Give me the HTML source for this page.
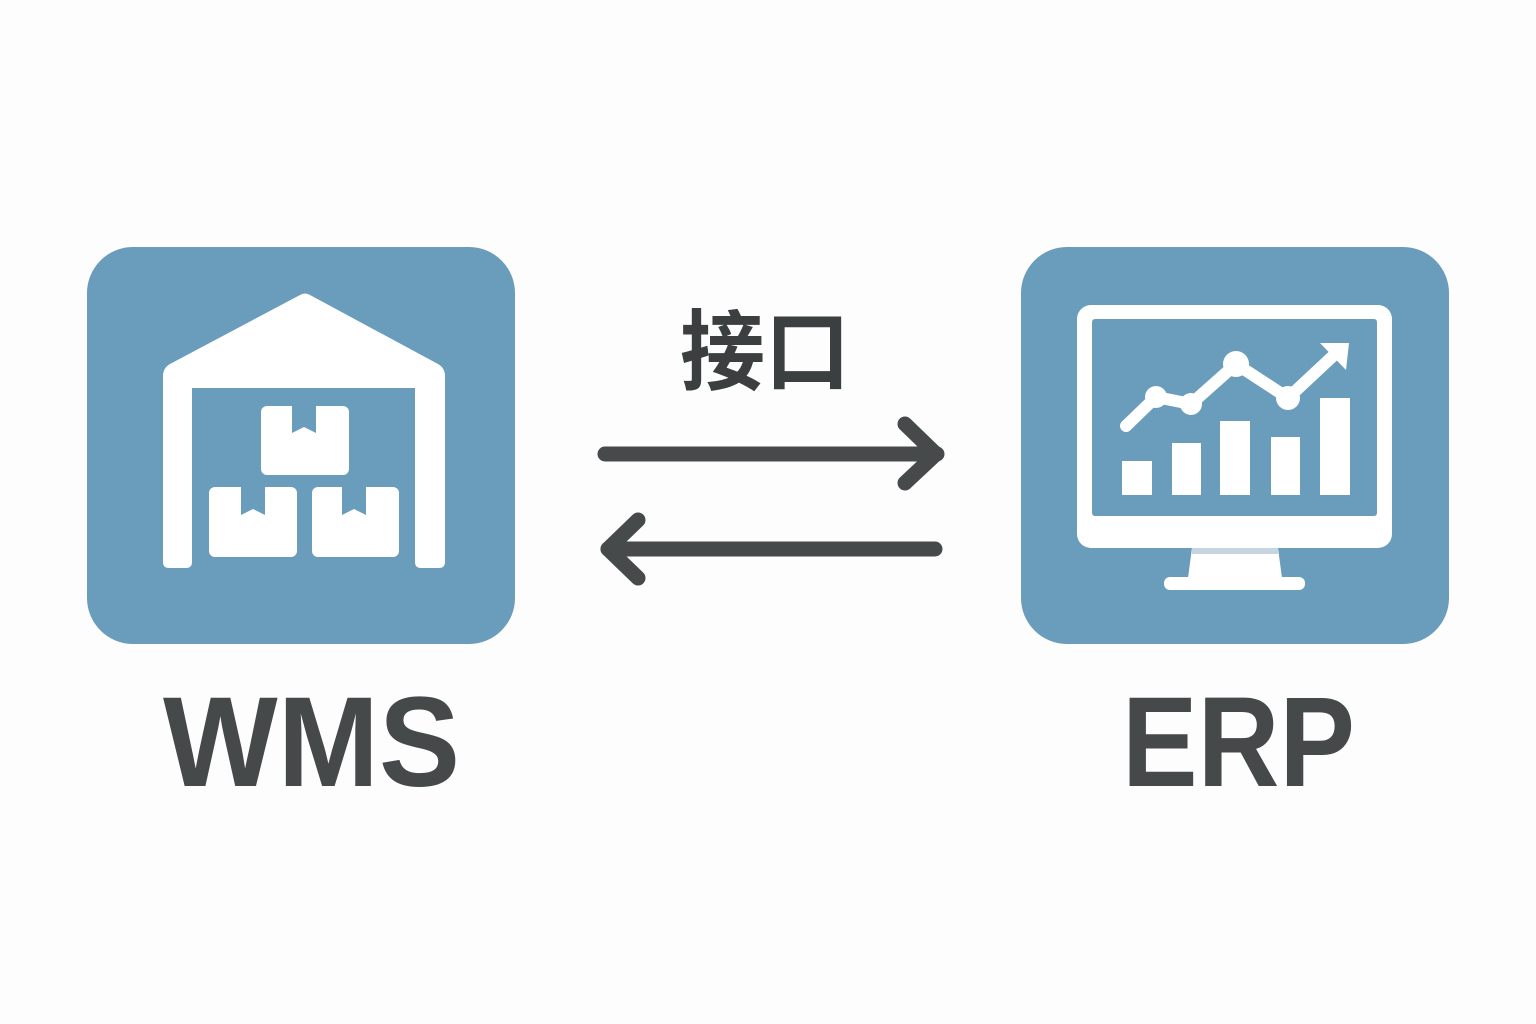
<!DOCTYPE html>
<html><head><meta charset="utf-8"><style>
html,body{margin:0;padding:0;background:#fdfdfd;}
svg{display:block;}
</style></head><body>
<svg width="1536" height="1024" viewBox="0 0 1536 1024" xmlns="http://www.w3.org/2000/svg">
<rect width="1536" height="1024" fill="#fdfdfd"/>
<!-- WMS box -->
<rect x="87" y="247" width="428" height="397" rx="46" fill="#6a9dbb"/>
<path d="M163,376 Q163,368 170,364 L300,295 Q305,292 310,295 L438,364 Q445,368 445,376 L445,562 Q445,568 439,568 L421,568 Q415,568 415,562 L415,388 L192,388 L192,562 Q192,568 186,568 L169,568 Q163,568 163,562 Z" fill="#fff"/>
<rect x="261" y="406" width="88" height="69" rx="6" fill="#fff"/>
<rect x="209" y="487" width="88" height="70" rx="6" fill="#fff"/>
<rect x="312" y="487" width="87" height="70" rx="6" fill="#fff"/>
<path d="M292,406 L292,433 L304,427 L316,433 L316,406 Z" fill="#6a9dbb"/>
<path d="M241,487 L241,515 L253,509 L265,515 L265,487 Z" fill="#6a9dbb"/>
<path d="M342,487 L342,515 L354,509 L366,515 L366,487 Z" fill="#6a9dbb"/>
<!-- ERP box -->
<rect x="1021" y="247" width="428" height="397" rx="46" fill="#6a9dbb"/>
<rect x="1077" y="305" width="315" height="243" rx="14" fill="#fff"/>
<rect x="1092" y="319" width="285" height="197" rx="3" fill="#6a9dbb"/>
<path d="M1192,548 L1278,548 L1282,578 L1188,578 Z" fill="#fff"/>
<rect x="1192" y="548" width="86" height="6" fill="#c6d5e0"/>
<rect x="1164" y="577" width="141" height="13" rx="6" fill="#fff"/>
<g fill="#fff">
<rect x="1122" y="461" width="30" height="34"/>
<rect x="1172" y="443" width="29" height="52"/>
<rect x="1220" y="421" width="30" height="74"/>
<rect x="1271" y="437" width="29" height="58"/>
<rect x="1320" y="398" width="30" height="97"/>
</g>
<polyline points="1126,426 1156,397 1191,404 1236,364 1288,398 1333,356" fill="none" stroke="#fff" stroke-width="12" stroke-linecap="round" stroke-linejoin="round"/>
<path d="M1320,343 L1349,343 L1346,370 Z" fill="#fff"/>
<g fill="#fff"><circle cx="1156" cy="397" r="11"/><circle cx="1191" cy="404" r="11"/><circle cx="1236" cy="364" r="13"/><circle cx="1288" cy="398" r="12"/></g>
<!-- arrows -->
<g fill="none" stroke="#474a4a" stroke-width="15" stroke-linecap="round" stroke-linejoin="round">
<line x1="605" y1="454" x2="937" y2="454"/>
<polyline points="905,424 936,454 905,483"/>
<line x1="935" y1="549" x2="608" y2="549"/>
<polyline points="638,520 608,549 638,578"/>
</g>
<text x="680" y="383" textLength="170" lengthAdjust="spacingAndGlyphs" font-family="'Liberation Sans','Noto Sans CJK SC',sans-serif" font-weight="bold" font-size="88" fill="#3c3f3f">接口</text>
<text x="163" y="786" textLength="297" lengthAdjust="spacingAndGlyphs" font-family="'Liberation Sans',sans-serif" font-weight="bold" font-size="128" fill="#464949">WMS</text>
<text x="1122" y="786" textLength="233" lengthAdjust="spacingAndGlyphs" font-family="'Liberation Sans',sans-serif" font-weight="bold" font-size="128" fill="#464949">ERP</text>
</svg>
</body></html>
